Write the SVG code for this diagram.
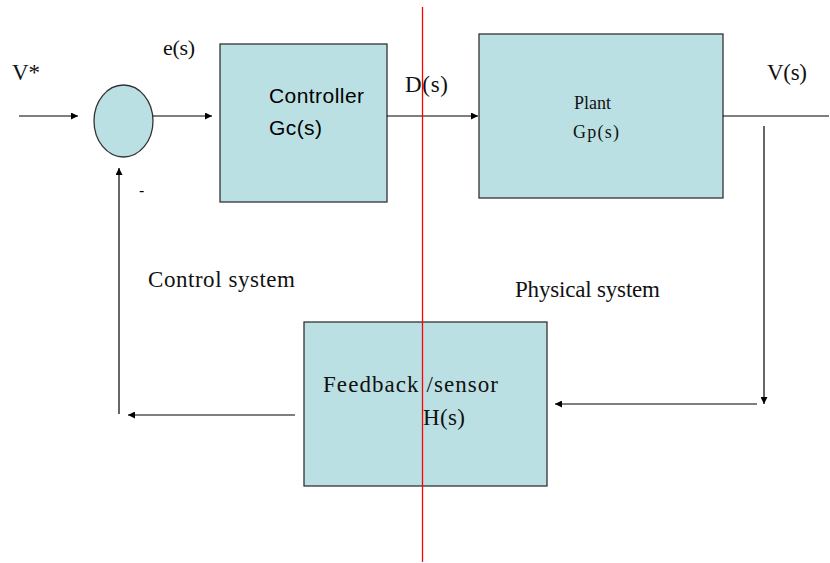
<svg xmlns="http://www.w3.org/2000/svg" width="830" height="563" viewBox="0 0 830 563">
<defs>
<style>
.blk{fill:#BBE0E3;stroke:#333;stroke-width:1.3}
.ln{fill:none;stroke:#000;stroke-width:1.2}
.serif{font-family:"Liberation Serif","Times New Roman",serif;fill:#111}
.sans{font-family:"Liberation Sans",Arial,sans-serif;fill:#000}
</style>
<marker id="ah" viewBox="0 0 10 10" refX="10" refY="5" markerWidth="9" markerHeight="7" markerUnits="userSpaceOnUse" orient="auto">
<path d="M0,0 L10,5 L0,10 z" fill="#000"/>
</marker>
</defs>
<rect width="830" height="563" fill="#fff"/>
<g id="sum"><ellipse class="blk" cx="123.5" cy="121" rx="29.5" ry="36"/></g>
<g id="controller">
<rect class="blk" x="220" y="44" width="167" height="158"/>
<text class="sans" x="269" y="103" font-size="21" textLength="95">Controller</text>
<text class="sans" x="269" y="135" font-size="21" textLength="53">Gc(s)</text>
</g>
<g id="plant">
<rect class="blk" x="479" y="34" width="244" height="164"/>
<text class="serif" x="574" y="109" font-size="18">Plant</text>
<text class="serif" x="573" y="138" font-size="18" textLength="46">Gp(s)</text>
</g>
<g id="feedback">
<rect class="blk" x="304" y="322" width="243" height="164"/>
<text class="serif" x="323" y="392" font-size="23" textLength="175">Feedback /sensor</text>
<text class="serif" x="423" y="425" font-size="23" textLength="42">H(s)</text>
</g>
<g id="connectors">
<line class="ln" x1="19" y1="116" x2="78" y2="116" marker-end="url(#ah)"/>
<line class="ln" x1="153" y1="116" x2="212" y2="116" marker-end="url(#ah)"/>
<line class="ln" x1="387" y1="116" x2="478" y2="116" marker-end="url(#ah)"/>
<line class="ln" x1="723" y1="116" x2="829" y2="116"/>
<line class="ln" x1="764" y1="126" x2="764" y2="404" marker-end="url(#ah)"/>
<line class="ln" x1="757" y1="404" x2="555" y2="404" marker-end="url(#ah)"/>
<line class="ln" x1="295" y1="415" x2="128" y2="415" marker-end="url(#ah)"/>
<line class="ln" x1="119" y1="414" x2="119" y2="168" marker-end="url(#ah)"/>
</g>
<g id="labels">
<text class="serif" x="12" y="80" font-size="23" textLength="28">V*</text>
<text class="serif" x="163" y="55" font-size="22" textLength="32">e(s)</text>
<text class="serif" x="405" y="92" font-size="23" textLength="43">D(s)</text>
<text class="serif" x="767" y="80" font-size="23" textLength="40">V(s)</text>
<text class="sans" x="139" y="196" font-size="16">-</text>
<text class="serif" x="148" y="287" font-size="23" textLength="147">Control system</text>
<text class="serif" x="515" y="297" font-size="23" textLength="145">Physical system</text>
</g>
<line id="divider" x1="422.5" y1="7" x2="422.5" y2="562" stroke="#FF0000" stroke-width="1.3"/>
</svg>
